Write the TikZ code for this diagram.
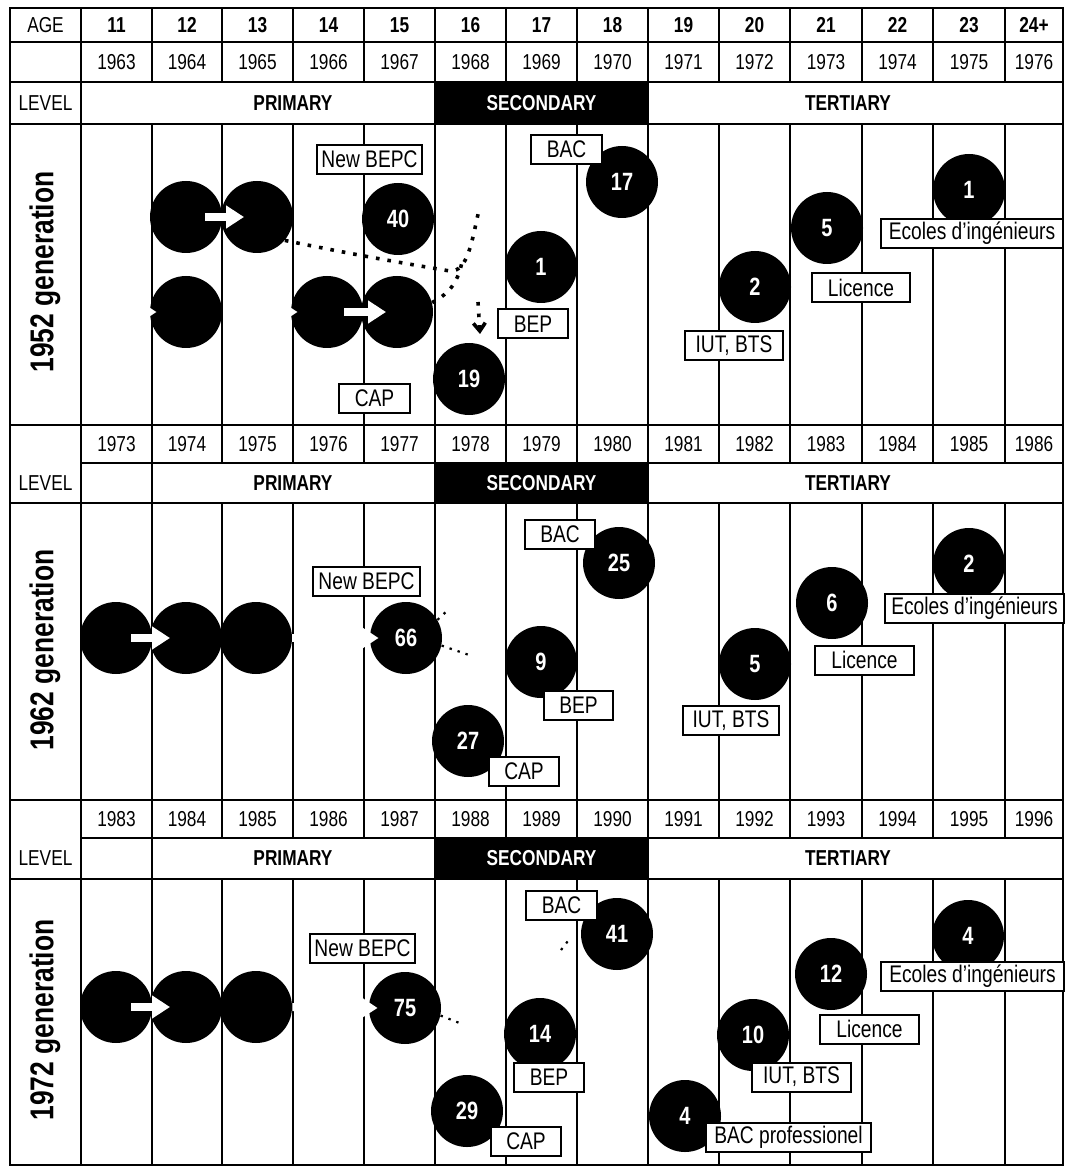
\documentclass[tikz,border=0pt]{standalone}
\usepackage{fontspec}
\setmainfont{Liberation Sans}[FakeStretch=0.8]
\usetikzlibrary{arrows.meta,calc}

\begin{document}
\begin{tikzpicture}[x=0.5pt,y=-0.5pt,
  gline/.style={line width=0.8pt},
  heavyline/.style={line width=1.4pt},
  hdr/.style={inner sep=0pt,font=\fontsize{10.8}{12}\selectfont},
  agehdr/.style={inner sep=0pt,font=\bfseries\fontsize{10.8}{12}\selectfont},
  band/.style={inner sep=0pt,font=\bfseries\fontsize{10.8}{12}\selectfont},
  gen/.style={rotate=90,inner sep=0pt,font=\bfseries\fontsize{16.5}{18}\selectfont},
  pupil/.style={circle,fill=black,minimum size=36pt,inner sep=0pt,text=white,font=\bfseries\fontsize{12.5}{14}\selectfont},
  exam/.style={draw,fill=white,line width=1pt,minimum height=14.5pt,inner sep=0pt,font=\fontsize{12}{13}\selectfont},
  warrow/.style={white,line width=4pt,-{Triangle[length=9pt,width=11pt]}},
  dotline/.style={line width=1.8pt,dash pattern=on 1.8pt off 4pt},
  faint/.style={line width=1.1pt,dash pattern=on 1.2pt off 3pt},
]
\useasboundingbox (0,0) rectangle (1065,1171);
% table rules
\foreach \x in {81,152,222,293,364,435,506,577,648,719,790,862,933,1005}{
  \draw[gline] (\x,8) -- (\x,82);
  \draw[gline] (\x,124) -- (\x,463);
  \draw[gline] (\x,503) -- (\x,838);
  \draw[gline] (\x,879) -- (\x,1165);
}
\foreach \x in {81,435,648} \draw[gline] (\x,82) -- (\x,124);
\foreach \x in {81,152,435,648}{
  \draw[gline] (\x,463) -- (\x,503);
  \draw[gline] (\x,838) -- (\x,879);
}
\foreach \y in {42,82,124,503,879} \draw[gline] (10,\y) -- (1063,\y);
\foreach \y in {425,800} \draw[heavyline] (10,\y) -- (1063,\y);
\foreach \y in {463,838} \draw[gline] (81,\y) -- (1063,\y);
\draw[heavyline] (10,8) rectangle (1063,1165);
% header texts
\node[hdr] (agelbl) at (45.5,25) {AGE};
\foreach \a/\xc [count=\i] in {11/116.5,12/187,13/257.5,14/328.5,15/399.5,16/470.5,17/541.5,
  18/612.5,19/683.5,20/754.5,21/826,22/897.5,23/969,24+/1034}
  \node[agehdr] (age\i) at (\xc,25) {\a};
\foreach \xc [count=\i from 0] in {116.5,187,257.5,328.5,399.5,470.5,541.5,612.5,683.5,754.5,826,897.5,969,1034}{
  \foreach \first/\yy/\r in {1963/62/a,1973/444/b,1983/819/c}{
    \pgfmathtruncatemacro{\yr}{\first+\i}
    \node[hdr] (yr\r\i) at (\xc,\yy) {\yr};
  }
}
% level bands
\foreach \r/\yy/\hh in {a/103/21pt,b/483/20pt,c/858.5/20.5pt}{
  \node[hdr] (lvl\r) at (45.5,\yy) {LEVEL};
  \node[band] (prim\r) at (293,\yy) {PRIMARY};
  \node[band,fill=black,text=white,minimum width=106.5pt,minimum height=\hh] (sec\r) at (541.5,\yy) {SECONDARY};
  \node[band] (tert\r) at (848,\yy) {TERTIARY};
}
\node[gen] (gena) at (45,272) {1952 generation};
\node[gen] (genb) at (45,650) {1962 generation};
\node[gen] (genc) at (45,1020) {1972 generation};
% 1952 generation
\node[pupil] (aup12) at (186,217) {};
\node[pupil] (aup13) at (257,217) {};
\node[pupil] (a40)   at (398,219) {40};
\node[pupil] (alo12) at (186,312) {};
\node[pupil] (alo14) at (327,312) {};
\node[pupil] (alo15) at (397,312) {};
\node[pupil] (a19)   at (469,379) {19};
\node[pupil] (a1bep) at (541,267) {1};
\node[pupil] (a17)   at (622,182) {17};
\node[pupil] (a2)    at (755,287) {2};
\node[pupil] (a5)    at (827,228) {5};
\node[pupil] (a1ec)  at (969,190) {1};
\node[exam,minimum width=52.5pt] (abepc) at (369.5,159.5) {New BEPC};
\node[exam,minimum width=35.5pt] (abac)  at (566.5,149.5) {BAC};
\node[exam,minimum width=35pt]   (abep)  at (533,324) {BEP};
\node[exam,minimum width=35.5pt] (acap)  at (374.5,398) {CAP};
\node[exam,minimum width=49pt]   (aiut)  at (734,345.5) {IUT, BTS};
\node[exam,minimum width=49pt]   (alic)  at (861,287.5) {Licence};
\node[exam,minimum width=91pt]   (aeco)  at (972,233.5) {Ecoles d’ingénieurs};
\draw[warrow] ([xshift=9.5pt]aup12.center) -- ([xshift=-6.5pt]aup13.center);
\draw[warrow] ([xshift=8.5pt]alo14.center) -- ([xshift=-5.5pt]alo15.center);
\draw[warrow] ([xshift=-12pt]alo12.west) -- ([xshift=3.5pt]alo12.west);
\draw[warrow] ([xshift=-12pt]alo14.west) -- ([xshift=3.5pt]alo14.west);
\coordinate (dA) at (450,271);
\coordinate (dB) at (479,210);
\coordinate (dE) at (462,262);
\coordinate (dC) at (478,302);
\coordinate (dD) at (480,334);
\draw[dotline] (aup13.-40) .. controls (360,256) and (420,266) .. (dA) .. controls (468,272) and (472,240) .. (dB);
\draw[dotline] (alo15.15) .. controls (452,292) and (458,280) .. (dE);
\draw[dotline,-{Straight Barb[length=4pt,width=6pt]}] (dC) -- (dD);
% 1962 generation
\node[pupil] (b11) at (116,638) {};
\node[pupil] (b12) at (186,638) {};
\node[pupil] (b13) at (256,638) {};
\node[pupil] (b66) at (406,638) {66};
\node[pupil] (b27) at (468,741) {27};
\node[pupil] (b9)  at (541,662) {9};
\node[pupil] (b25) at (619,563) {25};
\node[pupil] (b5)  at (755,664) {5};
\node[pupil] (b6)  at (832,603) {6};
\node[pupil] (b2)  at (969,564) {2};
\node[exam,minimum width=53.5pt] (bbepc) at (366.5,581) {New BEPC};
\node[exam,minimum width=35pt]   (bbac)  at (560,534) {BAC};
\node[exam,minimum width=34.5pt] (bbep)  at (578.5,705.5) {BEP};
\node[exam,minimum width=35pt]   (bcap)  at (524,771.5) {CAP};
\node[exam,minimum width=48pt]   (biut)  at (731,720.5) {IUT, BTS};
\node[exam,minimum width=49.5pt] (blic)  at (864.5,660) {Licence};
\node[exam,minimum width=89.5pt] (beco)  at (974.5,608) {Ecoles d’ingénieurs};
\draw[warrow] ([xshift=7.5pt]b11.center) -- ([xshift=-8pt]b12.center);
\draw[warrow] (b13.east) -- ([xshift=4.5pt]b66.west);
\coordinate (fb1) at (472,656);
\coordinate (fb2) at (449,609);
\draw[faint] (b66.-12) -- (fb1);
\draw[faint] (b66.30) -- (fb2);
% 1972 generation
\node[pupil] (c11)  at (116,1007) {};
\node[pupil] (c12)  at (186,1007) {};
\node[pupil] (c13)  at (256,1007) {};
\node[pupil] (c75)  at (405,1008) {75};
\node[pupil] (c29)  at (467,1111) {29};
\node[pupil] (c14)  at (540,1034) {14};
\node[pupil] (c41)  at (617,934) {41};
\node[pupil] (c4b)  at (685,1116) {4};
\node[pupil] (c10)  at (753,1035) {10};
\node[pupil] (c12t) at (831,974) {12};
\node[pupil] (c4)   at (968,936) {4};
\node[exam,minimum width=52.5pt] (cbepc) at (362.5,948) {New BEPC};
\node[exam,minimum width=35.5pt] (cbac)  at (561.5,905) {BAC};
\node[exam,minimum width=35pt]   (cbep)  at (549,1077.5) {BEP};
\node[exam,minimum width=35pt]   (ccap)  at (526,1141) {CAP};
\node[exam,minimum width=49.5pt] (ciut)  at (801.5,1077) {IUT, BTS};
\node[exam,minimum width=49.5pt] (clic)  at (869.5,1029) {Licence};
\node[exam,minimum width=91.5pt] (ceco)  at (972.5,976) {Ecoles d’ingénieurs};
\node[exam,minimum width=82.5pt] (cpro)  at (788.5,1137.5) {BAC professionel};
\draw[warrow] ([xshift=7.5pt]c11.center) -- ([xshift=-8pt]c12.center);
\draw[warrow] (c13.east) -- ([xshift=4.5pt]c75.west);
\coordinate (fc1) at (462,1024);
\coordinate (fc2) at (561,950);
\coordinate (fc3) at (571,937);
\draw[faint] (c75.-12) -- (fc1);
\draw[faint] (fc2) -- (fc3);
\end{tikzpicture}
\end{document}
